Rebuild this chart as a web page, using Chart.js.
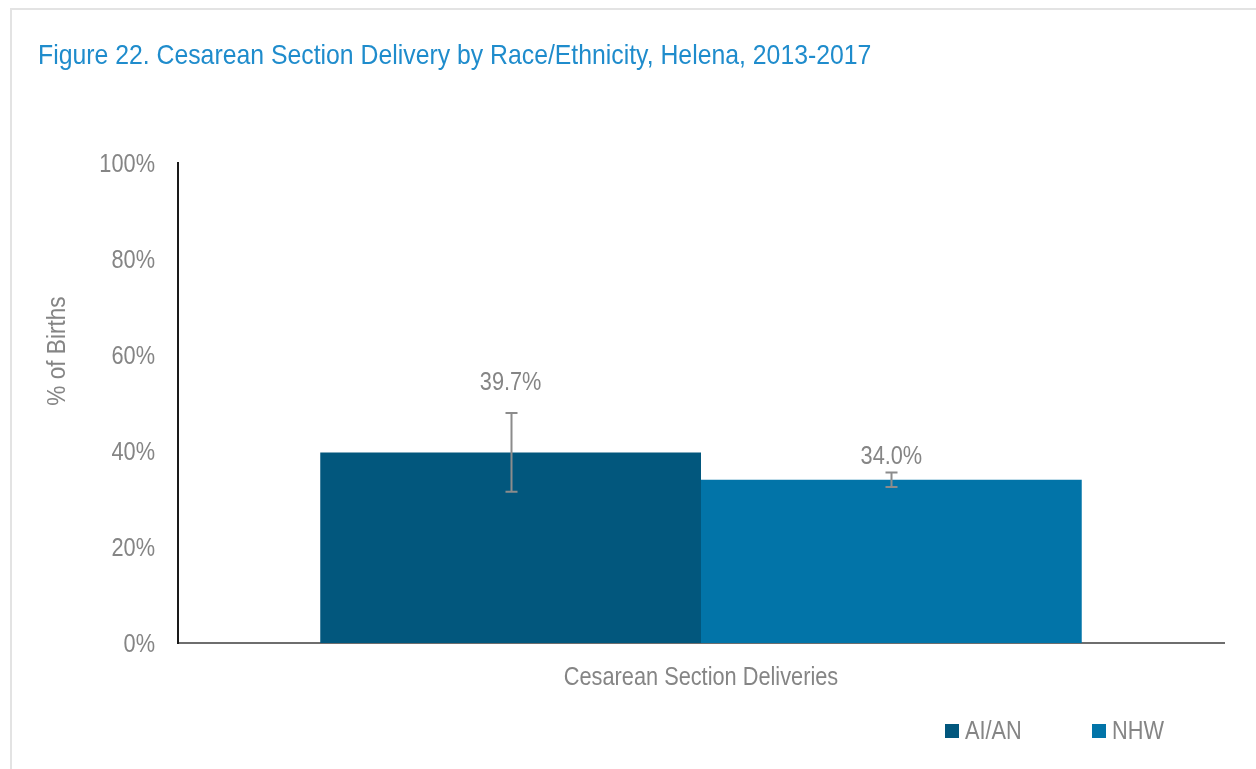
<!DOCTYPE html>
<html>
<head>
<meta charset="utf-8">
<script src="https://cdn.jsdelivr.net/npm/chart.js@4.4.1/dist/chart.umd.min.js"></script>
<style>
  html, body { margin: 0; padding: 0; background: #ffffff; }
  #frame { position: absolute; left: 10px; top: 8px; width: 1300px; height: 800px;
           border-left: 2px solid #e3e3e3; border-top: 2px solid #e3e3e3; box-sizing: border-box; }
  #wrap { position: absolute; left: 0; top: 0; width: 1256px; height: 769px; }
</style>
</head>
<body>
<div id="frame"></div>
<div id="wrap"><canvas id="c" width="1256" height="769"></canvas></div>
<script>
const titleText = "Figure 22. Cesarean Section Delivery by Race/Ethnicity, Helena, 2013-2017";
const yAxisTitle = "% of Births";
const categories = ["Cesarean Section Deliveries"];
const seriesNames = ["AI/AN", "NHW"];
const aianValues = [39.7];
const nhwValues = [34.0];
const aianErrLow = [31.5];
const aianErrHigh = [47.9];
const nhwErrLow = [32.5];
const nhwErrHigh = [35.5];
const yTicks = [0, 20, 40, 60, 80, 100];

const FONT = "'Liberation Sans', Arial, sans-serif";
const GRAY = "#858585";
const NARROW = 0.87;

// draw horizontally condensed text (imitates Arial Narrow look)
function narrowText(ctx, text, x, y, size, color, align, rotate) {
  ctx.save();
  ctx.translate(x, y);
  if (rotate) ctx.rotate(rotate);
  ctx.scale(NARROW, 1);
  ctx.font = size + "px " + FONT;
  ctx.fillStyle = color;
  ctx.textAlign = align;
  ctx.textBaseline = "alphabetic";
  ctx.fillText(text, 0, 0);
  ctx.restore();
}

const errorBarPlugin = {
  id: 'errorBars',
  afterDatasetsDraw(chart) {
    const ctx = chart.ctx;
    const y = chart.scales.y;
    chart.data.datasets.forEach((ds, di) => {
      const meta = chart.getDatasetMeta(di);
      meta.data.forEach((bar, i) => {
        const lo = y.getPixelForValue(ds.errLow[i]);
        const hi = y.getPixelForValue(ds.errHigh[i]);
        const x = Math.round(bar.x) + 0.5;
        ctx.save();
        ctx.strokeStyle = "#8c8c8c";
        ctx.lineWidth = 2;
        ctx.beginPath();
        ctx.moveTo(x, lo); ctx.lineTo(x, hi);
        ctx.moveTo(x - 6, lo); ctx.lineTo(x + 6, lo);
        ctx.moveTo(x - 6, hi); ctx.lineTo(x + 6, hi);
        ctx.stroke();
        ctx.restore();
        narrowText(ctx, ds.data[i].toFixed(1) + "%", bar.x, hi - ds.labelGap, 25, GRAY, "center");
      });
    });
  }
};

const textPlugin = {
  id: 'texts',
  afterDraw(chart) {
    const ctx = chart.ctx;
    const xs = chart.scales.x, ys = chart.scales.y;
    // title
    narrowText(ctx, titleText, 38, 63.5, 28.5, "#1f8ccc", "left");
    // y ticks
    yTicks.forEach(v => {
      narrowText(ctx, v + "%", ys.right - 23, ys.getPixelForValue(v) + 9, 25, GRAY, "right");
    });
    // x category labels
    chart.data.labels.forEach((lab, i) => {
      narrowText(ctx, lab, xs.getPixelForValue(i), xs.top + 42, 25, GRAY, "center");
    });
    // y axis title
    narrowText(ctx, yAxisTitle, 65, 351, 26, GRAY, "center", -Math.PI / 2);
    // legend
    const lx = [945, 1092];
    chart.data.datasets.forEach((ds, i) => {
      ctx.fillStyle = ds.backgroundColor;
      ctx.fillRect(lx[i], 724, 14, 14);
      narrowText(ctx, ds.label, lx[i] + 20, 739, 25, GRAY, "left");
    });
  }
};

new Chart(document.getElementById('c'), {
  type: 'bar',
  data: {
    labels: categories,
    datasets: [
      { label: seriesNames[0], data: aianValues, errLow: aianErrLow, errHigh: aianErrHigh,
        backgroundColor: "#02577d", labelGap: 23, categoryPercentage: 0.728, barPercentage: 1.0 },
      { label: seriesNames[1], data: nhwValues, errLow: nhwErrLow, errHigh: nhwErrHigh,
        backgroundColor: "#0274a8", labelGap: 9, categoryPercentage: 0.728, barPercentage: 1.0 }
    ]
  },
  options: {
    responsive: false,
    animation: false,
    events: [],
    layout: { padding: { left: 0, right: 32, top: 163, bottom: 76 } },
    plugins: {
      legend: { display: false },
      title: { display: false },
      tooltip: { enabled: false }
    },
    scales: {
      x: {
        grid: { display: false, drawTicks: false },
        border: { display: true, color: "#6e6e6e", width: 2 },
        ticks: { display: false },
        afterFit: s => { s.height = 50; }
      },
      y: {
        min: 0, max: 100,
        afterBuildTicks: s => { s.ticks = yTicks.map(v => ({ value: v })); },
        grid: { display: false, drawTicks: false },
        border: { display: true, color: "#1a1a1a", width: 2 },
        ticks: { display: false },
        afterFit: s => { s.width = 178; }
      }
    }
  },
  plugins: [errorBarPlugin, textPlugin]
});
</script>
</body>
</html>
